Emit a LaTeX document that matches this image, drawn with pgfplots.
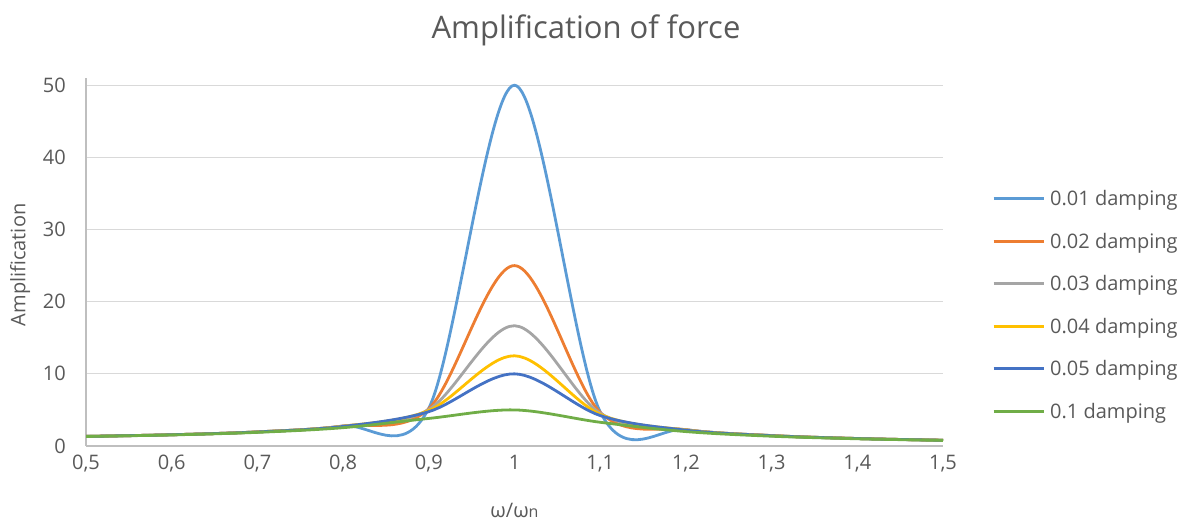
\documentclass[border=0pt]{standalone}
\usepackage{fontspec}
\setmainfont{Open Sans}
\usepackage{pgfplots}
\usepackage{pgfplotstable}
\pgfplotsset{compat=1.18}
\definecolor{txt}{HTML}{595959}
\definecolor{gridc}{HTML}{D9D9D9}
\definecolor{axc}{HTML}{BFBFBF}
\definecolor{c1}{HTML}{5B9BD5}
\definecolor{c2}{HTML}{ED7D31}
\definecolor{c3}{HTML}{A5A5A5}
\definecolor{c4}{HTML}{FFC000}
\definecolor{c5}{HTML}{4472C4}
\definecolor{c6}{HTML}{70AD47}
\pgfplotstableread{
x    a      b      c       d      e      f
0.5  1.3332 1.3329 1.3323  1.3314 1.3304 1.3216
0.6  1.5622 1.5614 1.5600  1.5581 1.5557 1.5357
0.7  1.9601 1.9578 1.9541  1.9491 1.9426 1.8908
0.8  2.7750 2.7669 2.7534  2.7349 2.7116 2.5384
0.9  5.2398 5.1712 5.0626  4.9216 4.7565 3.8208
1.0  50     25     16.667  12.5   10     5
1.1  4.7360 4.6607 4.5428  4.3919 4.2182 3.2880
1.2  2.2693 2.2593 2.2429  2.2205 2.1926 1.9952
1.3  1.4482 1.4452 1.4401  1.4331 1.4242 1.3562
1.4  1.0412 1.0399 1.0377  1.0346 1.0308 1.0000
1.5  0.7998 0.7991 0.7979  0.7963 0.7943 0.7779
}\amp
\begin{document}
\begin{tikzpicture}
\useasboundingbox (0,0) rectangle (1184pt,525pt);
\begin{axis}[
  at={(86pt,79pt)}, anchor=south west,
  scale only axis, width=857pt, height=368pt,
  xmin=0.5, xmax=1.5, ymin=0, ymax=51,
  xtick={0.5,0.6,0.7,0.8,0.9,1.0,1.1,1.2,1.3,1.4,1.5},
  xticklabels={{0,5},{0,6},{0,7},{0,8},{0,9},{1},{1,1},{1,2},{1,3},{1,4},{1,5}},
  ytick={0,10,20,30,40,50},
  axis x line=bottom, axis y line=left,
  axis line style={draw=axc, line width=1.2pt, -},
  major tick length=0pt,
  ymajorgrids, grid style={draw=gridc, line width=1.2pt},
  /pgf/number format/assume math mode=true,
  tick label style={font=\fontsize{20}{24}\selectfont, text=txt, inner sep=0pt},
  xticklabel style={anchor=north, yshift=-9pt},
  yticklabel style={anchor=east, xshift=-20pt},
  title={Amplification of force},
  title style={at={(axis description cs:0.5834,1.114)}, anchor=center, font=\fontsize{31}{36}\selectfont, text=txt},
  xlabel={ω/ω{\fontsize{16}{16}\selectfont n}},
  xlabel style={at={(axis description cs:0.5,-0.174)}, anchor=center, font=\fontsize{20}{24}\selectfont, text=txt},
  ylabel={Amplification},
  ylabel style={at={(axis description cs:-0.077,0.492)}, anchor=center, font=\fontsize{20}{24}\selectfont, text=txt},
  every axis plot/.append style={line width=2.8pt, smooth, tension=0.55, no markers},
  legend image code/.code={\draw[#1, line width=3pt] (0pt,0pt) -- (50pt,0pt);},
  legend cell align=left,
  legend style={at={(axis description cs:1.0572,0.383)}, anchor=west, draw=none, fill=none,
    font=\fontsize{20}{24}\selectfont, text=txt, inner sep=0pt, row sep=25.8pt, column sep=5pt,
    nodes={inner sep=0pt}},
]
\addplot[c1] table[x=x,y=a]{\amp};
\addlegendentry{0.01 damping}
\addplot[c2] table[x=x,y=b]{\amp};
\addlegendentry{0.02 damping}
\addplot[c3] table[x=x,y=c]{\amp};
\addlegendentry{0.03 damping}
\addplot[c4] table[x=x,y=d]{\amp};
\addlegendentry{0.04 damping}
\addplot[c5] table[x=x,y=e]{\amp};
\addlegendentry{0.05 damping}
\addplot[c6] table[x=x,y=f]{\amp};
\addlegendentry{0.1 damping}
\end{axis}
\end{tikzpicture}
\end{document}
